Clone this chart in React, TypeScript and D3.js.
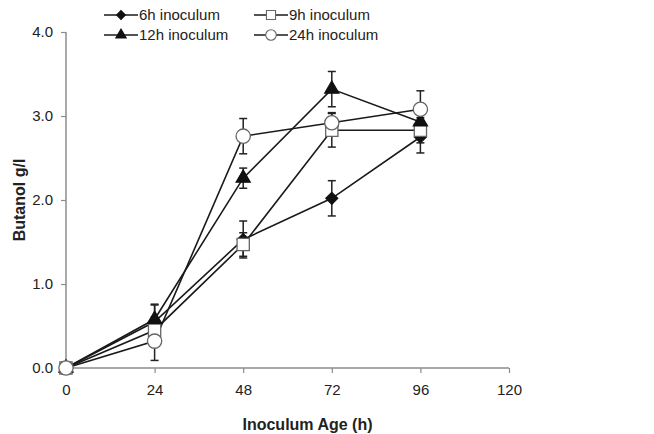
import React, { useRef, useEffect } from 'react';
import * as d3 from 'd3';

const hours = [0, 24, 48, 72, 96];
const xTicks = [0, 24, 48, 72, 96, 120];
const yTicks = [0, 1, 2, 3, 4];

const seriesNames = ['6h inoculum', '9h inoculum', '12h inoculum', '24h inoculum'];
const butanol6h = [0, 0.55, 1.53, 2.02, 2.75];
const butanol9h = [0, 0.45, 1.47, 2.83, 2.83];
const butanol12h = [0, 0.58, 2.26, 3.32, 2.93];
const butanol24h = [0, 0.32, 2.76, 2.92, 3.08];
const err6h = [0, 0.2, 0.22, 0.21, 0.19];
const err9h = [0, 0.15, 0.14, 0.2, 0.15];
const err12h = [0, 0.18, 0.12, 0.21, 0.1];
const err24h = [0, 0.23, 0.21, 0.12, 0.22];

const W = 654;
const H = 434;
const margin = { top: 32, right: 145, bottom: 66, left: 66 };

const App = () => {
  const svgRef = useRef<SVGSVGElement>(null);

  useEffect(() => {
    const svgEl = d3.select(svgRef.current);
    svgEl.selectAll('*').remove();

    const innerW = W - margin.left - margin.right;
    const innerH = H - margin.top - margin.bottom;

    const x = d3.scaleLinear().domain([0, 120]).range([0, innerW]);
    const y = d3.scaleLinear().domain([0, 4]).range([innerH, 0]);

    const svg = svgEl.append('g').attr('transform', `translate(${margin.left}, ${margin.top})`);
    const font = 'Liberation Sans, Arial, sans-serif';
    const axisColor = '#8c8c8c';

    // x axis
    const xAxis = d3.axisBottom(x).tickValues(xTicks).tickSize(5).tickPadding(11).tickFormat(d => `${d}`);
    const xg = svg.append('g').attr('transform', `translate(0, ${innerH})`).call(xAxis);
    xg.select('.domain').attr('stroke', axisColor).attr('stroke-width', 1.5)
      .attr('d', `M0,0H${innerW}`);
    xg.selectAll('line').attr('stroke', axisColor).attr('stroke-width', 1.2);
    xg.selectAll('text').attr('fill', '#222').attr('font-size', 15).attr('font-family', font);

    // y axis
    const yAxis = d3.axisLeft(y).tickValues(yTicks).tickSize(5).tickPadding(8).tickFormat(d3.format('.1f'));
    const yg = svg.append('g').call(yAxis);
    yg.select('.domain').attr('stroke', axisColor).attr('stroke-width', 1.5)
      .attr('d', `M0,0V${innerH}`);
    yg.selectAll('line').attr('stroke', axisColor).attr('stroke-width', 1.2);
    yg.selectAll('text').attr('fill', '#222').attr('font-size', 15).attr('font-family', font);

    // axis titles
    svg.append('text')
      .attr('x', innerW / 2 + 20)
      .attr('y', innerH + 62)
      .attr('text-anchor', 'middle')
      .attr('font-family', font)
      .attr('font-weight', 'bold')
      .attr('font-size', 16)
      .attr('fill', '#222')
      .text('Inoculum Age (h)');

    svg.append('text')
      .attr('transform', `translate(${-41}, ${innerH / 2}) rotate(-90)`)
      .attr('text-anchor', 'middle')
      .attr('font-family', font)
      .attr('font-weight', 'bold')
      .attr('font-size', 16)
      .attr('fill', '#222')
      .text('Butanol g/l');

    const series = [
      { name: seriesNames[0], values: butanol6h, errs: err6h, shape: d3.symbolSquare, rot: 45, size: 70, fill: '#111', stroke: '#111' },
      { name: seriesNames[1], values: butanol9h, errs: err9h, shape: d3.symbolSquare, rot: 0, size: 150, fill: '#fff', stroke: '#666' },
      { name: seriesNames[2], values: butanol12h, errs: err12h, shape: d3.symbolTriangle, rot: 0, size: 85, fill: '#111', stroke: '#111' },
      { name: seriesNames[3], values: butanol24h, errs: err24h, shape: d3.symbolCircle, rot: 0, size: 160, fill: '#fff', stroke: '#666' },
    ];

    const lineGen = d3.line<number>()
      .x((_, i) => x(hours[i]))
      .y(d => y(d));

    // error bars
    series.forEach(s => {
      const g = svg.append('g');
      s.values.forEach((v, i) => {
        const e = s.errs[i];
        if (e <= 0) return;
        const cx = x(hours[i]);
        g.append('line').attr('x1', cx).attr('x2', cx).attr('y1', y(v - e)).attr('y2', y(v + e))
          .attr('stroke', '#222').attr('stroke-width', 1.5);
        [v - e, v + e].forEach(b => {
          g.append('line').attr('x1', cx - 4).attr('x2', cx + 4).attr('y1', y(b)).attr('y2', y(b))
            .attr('stroke', '#222').attr('stroke-width', 1.5);
        });
      });
    });

    // lines
    series.forEach(s => {
      svg.append('path')
        .attr('d', lineGen(s.values))
        .attr('fill', 'none')
        .attr('stroke', '#1a1a1a')
        .attr('stroke-width', 1.6);
    });

    // markers
    series.forEach(s => {
      const sym = d3.symbol().type(s.shape).size(s.size);
      svg.append('g').selectAll('path')
        .data(s.values)
        .enter()
        .append('path')
        .attr('d', sym)
        .attr('transform', (d, i) => `translate(${x(hours[i])}, ${y(d)}) rotate(${s.rot})`)
        .attr('fill', s.fill)
        .attr('stroke', s.stroke)
        .attr('stroke-width', 1.3);
    });

    // legend
    const legendPos = [
      { lx: 104, ly: 15 },
      { lx: 254, ly: 15 },
      { lx: 104, ly: 35 },
      { lx: 254, ly: 35 },
    ];
    const legend = svgEl.append('g');
    series.forEach((s, i) => {
      const { lx, ly } = legendPos[i];
      legend.append('line').attr('x1', lx).attr('x2', lx + 34).attr('y1', ly).attr('y2', ly)
        .attr('stroke', '#1a1a1a').attr('stroke-width', 1.5);
      const sym = d3.symbol().type(s.shape).size(s.size * 0.55);
      legend.append('path').attr('d', sym)
        .attr('transform', `translate(${lx + 17}, ${ly}) rotate(${s.rot})`)
        .attr('fill', s.fill).attr('stroke', s.stroke).attr('stroke-width', 1.1);
      legend.append('text').attr('x', lx + 35).attr('y', ly + 5)
        .attr('font-family', font).attr('font-size', 15).attr('fill', '#222')
        .text(s.name);
    });
  }, []);

  return (
    <div style={{ position: 'fixed', top: 0, left: 0, width: W, height: H, overflow: 'hidden' }}>
      <svg ref={svgRef} width={W} height={H} style={{ display: 'block', background: '#fff' }}></svg>
    </div>
  );
};

export default App;
